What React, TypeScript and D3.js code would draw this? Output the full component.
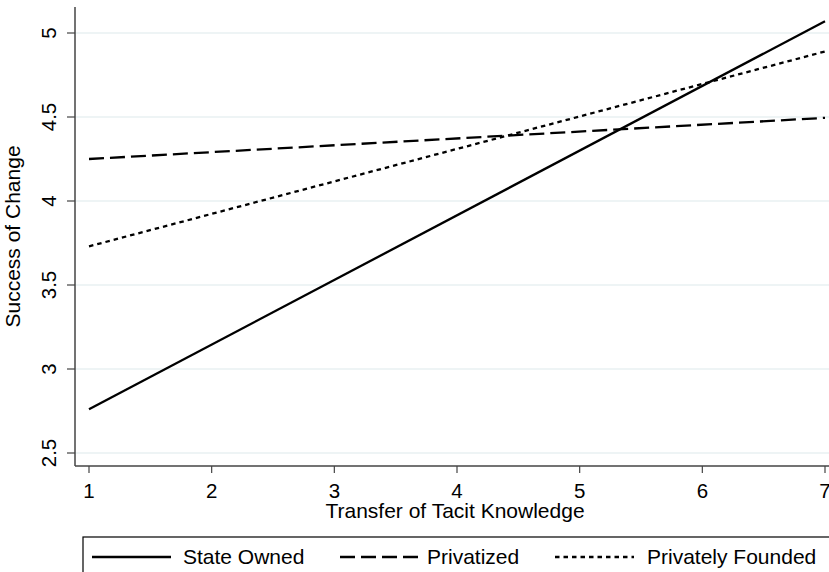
import * as d3 from "d3";
import { useEffect, useRef } from "react";

const xValues = [1, 7];
const stateOwned = [2.76, 5.07];
const privatized = [4.25, 4.495];
const privatelyFounded = [3.73, 4.89];
const xTicks = [1, 2, 3, 4, 5, 6, 7];
const yTicks = [2.5, 3, 3.5, 4, 4.5, 5];
const seriesNames = ["State Owned", "Privatized", "Privately Founded"];
const dashes = ["none", "15 6", "4.5 4"];

const width = 829;
const height = 572;
const font = "'Liberation Sans', Arial, sans-serif";

export default function App() {
  const svgRef = useRef<SVGSVGElement>(null);

  useEffect(() => {
    const svg = d3.select(svgRef.current);
    svg.selectAll("*").remove();

    const x = d3.scaleLinear().domain([1, 7]).range([89, 825]);
    const y = d3.scaleLinear().domain([2.5, 5]).range([453, 33]);
    const axisLeft = 75;
    const axisBottom = 466;

    // grid
    svg
      .append("g")
      .selectAll("line")
      .data(yTicks)
      .join("line")
      .attr("x1", axisLeft)
      .attr("x2", width)
      .attr("y1", (d) => y(d))
      .attr("y2", (d) => y(d))
      .attr("stroke", "#e8f0f2")
      .attr("stroke-width", 1.5);

    // data lines
    const series = [stateOwned, privatized, privatelyFounded];
    const line = d3
      .line<number>()
      .x((_, i) => x(xValues[i]))
      .y((d) => y(d));
    svg
      .append("g")
      .selectAll("path")
      .data(series)
      .join("path")
      .attr("d", (d) => line(d))
      .attr("fill", "none")
      .attr("stroke", "#000")
      .attr("stroke-width", 2.3)
      .attr("stroke-dasharray", (_, i) => dashes[i]);

    // y axis
    const ya = svg.append("g");
    ya.append("line")
      .attr("x1", axisLeft)
      .attr("x2", axisLeft)
      .attr("y1", 7)
      .attr("y2", axisBottom)
      .attr("stroke", "#444")
      .attr("stroke-width", 1.5);
    ya.selectAll(".tk")
      .data(yTicks)
      .join("line")
      .attr("x1", 67)
      .attr("x2", axisLeft)
      .attr("y1", (d) => y(d))
      .attr("y2", (d) => y(d))
      .attr("stroke", "#444")
      .attr("stroke-width", 1.2);
    ya.selectAll("text")
      .data(yTicks)
      .join("text")
      .attr("transform", (d) => `translate(56,${y(d)}) rotate(-90)`)
      .attr("text-anchor", "middle")
      .style("font-family", font)
      .style("font-size", "20.5px")
      .text((d) => String(d));

    // x axis
    const xa = svg.append("g");
    xa.append("line")
      .attr("x1", axisLeft)
      .attr("x2", width)
      .attr("y1", axisBottom)
      .attr("y2", axisBottom)
      .attr("stroke", "#444")
      .attr("stroke-width", 1.5);
    xa.selectAll(".tk")
      .data(xTicks)
      .join("line")
      .attr("x1", (d) => x(d))
      .attr("x2", (d) => x(d))
      .attr("y1", axisBottom)
      .attr("y2", axisBottom + 7)
      .attr("stroke", "#444")
      .attr("stroke-width", 1.2);
    xa.selectAll("text")
      .data(xTicks)
      .join("text")
      .attr("x", (d) => x(d))
      .attr("y", 498)
      .attr("text-anchor", "middle")
      .style("font-family", font)
      .style("font-size", "20.5px")
      .text((d) => String(d));

    // titles
    svg
      .append("text")
      .attr("x", 455)
      .attr("y", 518)
      .attr("text-anchor", "middle")
      .style("font-family", font)
      .style("font-size", "21px")
      .text("Transfer of Tacit Knowledge");
    svg
      .append("text")
      .attr("transform", `translate(20,${(7 + axisBottom) / 2}) rotate(-90)`)
      .attr("text-anchor", "middle")
      .style("font-family", font)
      .style("font-size", "21px")
      .text("Success of Change");

    // legend
    const lg = svg.append("g");
    lg.append("rect")
      .attr("x", 83)
      .attr("y", 537)
      .attr("width", 800)
      .attr("height", 100)
      .attr("fill", "#fff")
      .attr("stroke", "#000")
      .attr("stroke-width", 1.2);
    const legendItems = [
      { x1: 92, x2: 171, tx: 183 },
      { x1: 340, x2: 420, tx: 427 },
      { x1: 555, x2: 634, tx: 647 },
    ];
    legendItems.forEach((it, i) => {
      lg.append("line")
        .attr("x1", it.x1)
        .attr("x2", it.x2)
        .attr("y1", 557)
        .attr("y2", 557)
        .attr("stroke", "#000")
        .attr("stroke-width", 2.3)
        .attr("stroke-dasharray", dashes[i]);
      lg.append("text")
        .attr("x", it.tx)
        .attr("y", 564)
        .style("font-family", font)
        .style("font-size", "21px")
        .text(seriesNames[i]);
    });
  }, []);

  return (
    <svg
      ref={svgRef}
      width={width}
      height={height}
      style={{ position: "absolute", left: 0, top: 0, background: "#fff" }}
    />
  );
}
